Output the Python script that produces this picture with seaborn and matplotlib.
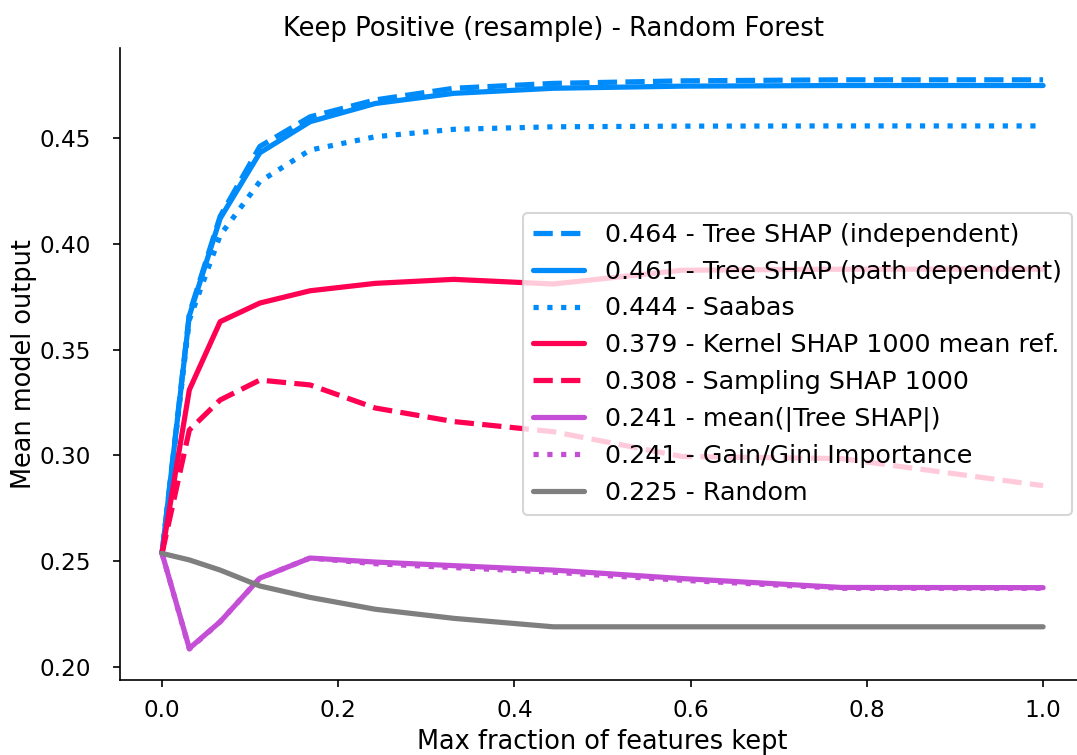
import matplotlib
matplotlib.use("Agg")
import matplotlib.pyplot as plt
import seaborn as sns
import pandas as pd

sns.set_style("ticks", {"axes.edgecolor": "black", "text.color": "black",
                        "xtick.color": "black", "ytick.color": "black",
                        "axes.labelcolor": "black"})
plt.rcParams['font.family'] = ['DejaVu Sans']

# fraction of features kept
x_frac = [0.0, 0.031, 0.066, 0.111, 0.168, 0.242, 0.331, 0.444, 0.59, 0.771, 1.0]

tree_shap_indep = [0.2537, 0.367, 0.413, 0.446, 0.460, 0.468, 0.4735, 0.4758, 0.4770, 0.4775, 0.4775]
tree_shap_path = [0.2537, 0.366, 0.412, 0.443, 0.4577, 0.4663, 0.4711, 0.4735, 0.4745, 0.4748, 0.4748]
saabas = [0.2537, 0.364, 0.404, 0.4294, 0.4443, 0.4506, 0.4541, 0.4553, 0.4556, 0.4557, 0.4557]
kernel_shap = [0.2537, 0.331, 0.3632, 0.372, 0.3778, 0.3813, 0.3832, 0.381, 0.3875, 0.388, 0.388]
sampling_shap = [0.2537, 0.312, 0.3262, 0.3356, 0.3333, 0.3224, 0.316, 0.3112, 0.2995, 0.2985, 0.2857]
mean_abs_shap = [0.2537, 0.2088, 0.2214, 0.242, 0.2515, 0.2496, 0.2479, 0.2458, 0.2418, 0.2376, 0.2375]
gain_gini = [0.2537, 0.2085, 0.2214, 0.242, 0.2515, 0.2488, 0.2470, 0.2448, 0.2410, 0.2372, 0.2372]
random_ = [0.2537, 0.2506, 0.2458, 0.2383, 0.2329, 0.2273, 0.223, 0.219, 0.219, 0.219, 0.219]

labels = [
    "0.464 - Tree SHAP (independent)",
    "0.461 - Tree SHAP (path dependent)",
    "0.444 - Saabas",
    "0.379 - Kernel SHAP 1000 mean ref.",
    "0.308 - Sampling SHAP 1000",
    "0.241 - mean(|Tree SHAP|)",
    "0.241 - Gain/Gini Importance",
    "0.225 - Random",
]
series = [tree_shap_indep, tree_shap_path, saabas, kernel_shap, sampling_shap,
          mean_abs_shap, gain_gini, random_]

blue = "#008bfb"
red = "#ff0052"
purple = "#c44fd6"
grey = "#7f7f7f"
colors = [blue, blue, blue, red, red, purple, purple, grey]
styles = ["--", "-", ":", "-", "--", "-", ":", "-"]

W, H, DPI = 1077, 755, 150
fig = plt.figure(figsize=(W / DPI, H / DPI), dpi=DPI)
ax = fig.add_axes([120 / W, (H - 680) / H, 964.5 / W, 632 / H])

for vals, lab, c, ls in zip(series, labels, colors, styles):
    df = pd.DataFrame({"x": x_frac, "y": vals})
    sns.lineplot(data=df, x="x", y="y", ax=ax, color=c, linestyle=ls,
                 linewidth=2.5, label=lab)

ax.set_xlim(-0.0477, 1.047)
ax.set_ylim(0.19386, 0.49253)
ax.set_yticks([0.20, 0.25, 0.30, 0.35, 0.40, 0.45])
ax.set_xticks([0.0, 0.2, 0.4, 0.6, 0.8, 1.0])
sns.despine(ax=ax)
ax.set_xlabel("Max fraction of features kept", fontsize=12.3, labelpad=3.5)
ax.set_ylabel("Mean model output", fontsize=12.3, labelpad=1)
ax.set_title("Keep Positive (resample) - Random Forest", fontsize=12.4, x=0.449)
ax.tick_params(axis="both", labelsize=11.1, length=3.5)
ax.tick_params(axis="x", pad=5.5)
ax.tick_params(axis="y", pad=10.5)
ax.legend(loc="center right", fontsize=12.2, handletextpad=0.8)

fig.savefig("out.png", dpi=DPI)
